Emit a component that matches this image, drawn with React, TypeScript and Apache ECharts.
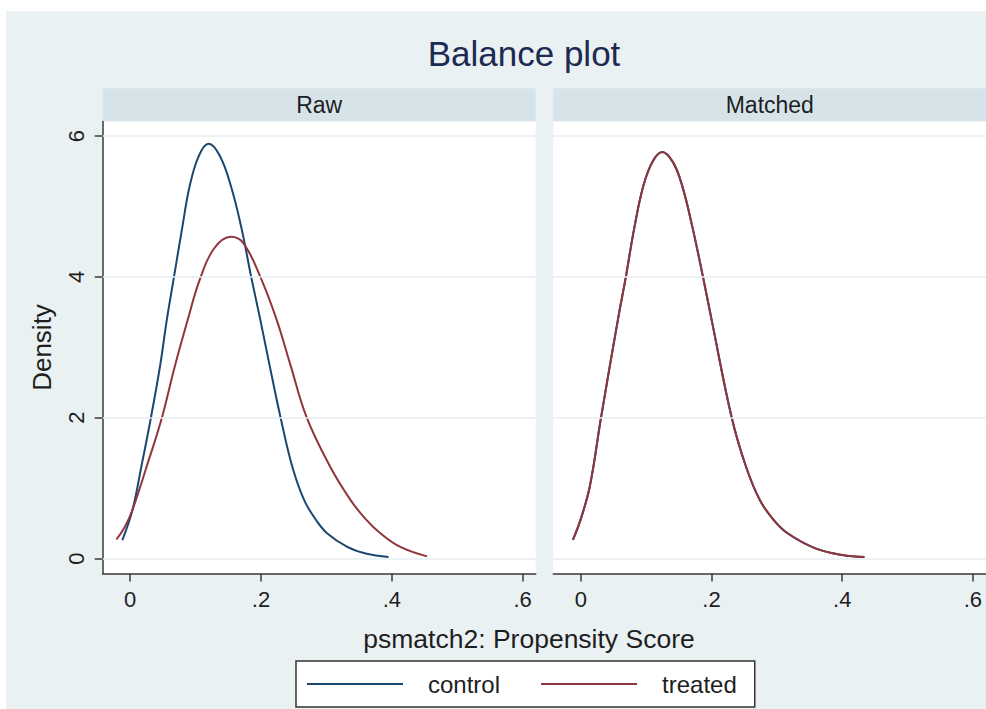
import React, { useEffect, useRef } from "react";
import * as echarts from "echarts";

// ---- data ----
const titleText = "Balance plot";
const panelNames = ["Raw", "Matched"];
const groupNames = ["control", "treated"];
const xTitle = "psmatch2: Propensity Score";
const yTitle = "Density";
const xTicks = [0, 0.2, 0.4, 0.6];
const yTicks = [0, 2, 4, 6];

// [propensity score, density]
const rawControl: [number, number][] = [
  [-0.012, 0.26], [0.0035, 0.69], [0.017, 1.3], [0.0317, 2.0], [0.046, 2.75],
  [0.056, 3.39], [0.067, 4.0], [0.0796, 4.7], [0.091, 5.29], [0.105, 5.72],
  [0.12, 5.89], [0.137, 5.72], [0.154, 5.29], [0.17, 4.7], [0.185, 4.0],
  [0.199, 3.39], [0.213, 2.75], [0.23, 2.0], [0.248, 1.3], [0.266, 0.83],
  [0.284, 0.55], [0.301, 0.36], [0.332, 0.165], [0.36, 0.07], [0.395, 0.02],
];
const rawTreated: [number, number][] = [
  [-0.021, 0.27], [-0.008, 0.45], [0.0035, 0.69], [0.025, 1.3], [0.0485, 2.0],
  [0.068, 2.72], [0.088, 3.39], [0.106, 3.95], [0.128, 4.4], [0.154, 4.57],
  [0.173, 4.48], [0.199, 4.0], [0.224, 3.39], [0.245, 2.75], [0.27, 2.0],
  [0.306, 1.3], [0.337, 0.83], [0.36, 0.56], [0.383, 0.355], [0.413, 0.165],
  [0.454, 0.03],
];
const matchedControl: [number, number][] = [
  [-0.012, 0.265], [0.0, 0.56], [0.014, 1.03], [0.031, 2.0], [0.057, 3.4],
  [0.069, 4.0], [0.082, 4.7], [0.096, 5.3], [0.11, 5.64], [0.1246, 5.775],
  [0.141, 5.63], [0.155, 5.3], [0.171, 4.7], [0.187, 4.0], [0.2, 3.4],
  [0.231, 2.0], [0.253, 1.3], [0.274, 0.83], [0.295, 0.55], [0.317, 0.355],
  [0.36, 0.14], [0.4, 0.05], [0.434, 0.02],
];
const matchedTreated: [number, number][] = [
  [-0.012, 0.265], [0.0, 0.56], [0.014, 1.03], [0.031, 2.0], [0.057, 3.4],
  [0.069, 4.0], [0.082, 4.7], [0.096, 5.3], [0.11, 5.64], [0.1246, 5.775],
  [0.141, 5.63], [0.155, 5.3], [0.171, 4.7], [0.187, 4.0], [0.2, 3.4],
  [0.231, 2.0], [0.253, 1.3], [0.274, 0.83], [0.295, 0.55], [0.317, 0.355],
  [0.36, 0.14], [0.4, 0.05], [0.434, 0.02],
];

// ---- styling ----
const FONT = '"Liberation Sans", Arial, Helvetica, sans-serif';
const BLUE = "#1a476f";
const RED = "#90353b";
const OUTER = "#e9f1f3";
const STRIP = "#d6e4ea";
const GRIDLINE = "#e6eef1";
const AXIS = "#3a3a3a";
const TEXT = "#1e1e1e";

const X_MIN = -0.042;
const X_MAX = 0.62;
const Y_MIN = -0.213;
const Y_MAX = 6.207;

const GRID_TOP = 121.5;
const GRID_H = 452;
const GRID_W = 433;
const GRID_LEFTS = [102.7, 553.3];

export default function App() {
  const ref = useRef<HTMLDivElement>(null);

  useEffect(() => {
    if (!ref.current) return;
    const chart = echarts.init(ref.current, undefined, { renderer: "svg" });

    const fmtX = (v: number) => (v === 0 ? "0" : String(v).replace(/^0/, ""));

    const grids = GRID_LEFTS.map((left) => ({
      left,
      top: GRID_TOP,
      width: GRID_W,
      height: GRID_H,
      show: true,
      backgroundColor: "#ffffff",
      borderWidth: 0,
      containLabel: false,
    }));

    const xAxes = GRID_LEFTS.map((_, i) => ({
      type: "value",
      gridIndex: i,
      min: X_MIN,
      max: X_MAX,
      axisLine: { show: true, onZero: false, lineStyle: { color: AXIS, width: 1.5 } },
      axisTick: { show: true, length: 8, customValues: xTicks, lineStyle: { color: AXIS, width: 1.5 } },
      axisLabel: {
        show: true,
        customValues: xTicks,
        formatter: fmtX,
        fontSize: 22,
        fontFamily: FONT,
        color: TEXT,
        margin: 15,
      },
      splitLine: { show: false },
    }));

    const yAxes = GRID_LEFTS.map((_, i) => ({
      type: "value",
      gridIndex: i,
      min: Y_MIN,
      max: Y_MAX,
      name: i === 0 ? yTitle : "",
      nameLocation: "middle",
      nameRotate: 90,
      nameGap: 48,
      nameTextStyle: { fontSize: 26, fontFamily: FONT, color: TEXT },
      axisLine: { show: i === 0, onZero: false, lineStyle: { color: AXIS, width: 1.5 } },
      axisTick: { show: i === 0, length: 8, customValues: yTicks, lineStyle: { color: AXIS, width: 1.5 } },
      axisLabel: {
        show: i === 0,
        customValues: yTicks,
        rotate: 90,
        fontSize: 22,
        fontFamily: FONT,
        color: TEXT,
        margin: 15,
      },
      splitLine: { show: false },
    }));

    const gridLineSeries = GRID_LEFTS.map((_, i) => ({
      type: "line",
      name: "gridlines",
      xAxisIndex: i,
      yAxisIndex: i,
      data: [],
      z: 1,
      silent: true,
      markLine: {
        silent: true,
        symbol: "none",
        label: { show: false },
        lineStyle: { color: GRIDLINE, width: 1.5, type: "solid" },
        data: yTicks.map((v) => ({ yAxis: v })),
      },
    }));

    const curve = (name: string, data: [number, number][], idx: number, color: string) => ({
      type: "line",
      name,
      xAxisIndex: idx,
      yAxisIndex: idx,
      data,
      smooth: 0.4,
      showSymbol: false,
      symbol: "none",
      color,
      lineStyle: { color, width: 2 },
      z: 3,
    });

    const option: any = {
      animation: false,
      backgroundColor: "#ffffff",
      title: [
        {
          text: titleText,
          left: 524,
          top: 36,
          padding: 0,
          textAlign: "center",
          textStyle: { fontSize: 35, fontWeight: "normal", fontFamily: FONT, color: "#1d2a52" },
        },
        {
          text: xTitle,
          left: 529,
          top: 625,
          padding: 0,
          textAlign: "center",
          textStyle: { fontSize: 26.5, fontWeight: "normal", fontFamily: FONT, color: TEXT },
        },
      ],
      graphic: [
        {
          type: "rect",
          z: -100,
          shape: { x: 6, y: 11, width: 980, height: 698 },
          style: { fill: OUTER },
          silent: true,
        },
        ...GRID_LEFTS.map((left) => ({
          type: "rect",
          z: -90,
          shape: { x: left, y: 88.3, width: GRID_W, height: 33.2 },
          style: { fill: STRIP },
          silent: true,
        })),
        ...GRID_LEFTS.map((left, i) => ({
          type: "text",
          z: 10,
          x: left + GRID_W / 2,
          y: 104.5,
          style: {
            text: panelNames[i],
            fontSize: 23,
            fontFamily: FONT,
            fill: TEXT,
            align: "center",
            verticalAlign: "middle",
          },
          silent: true,
        })),
      ],
      legend: {
        data: groupNames,
        left: 296,
        top: 661,
        orient: "horizontal",
        icon: "rect",
        itemWidth: 96,
        itemHeight: 2,
        itemGap: 41,
        padding: [11, 18, 11, 11],
        backgroundColor: "#ffffff",
        borderColor: "#333333",
        borderWidth: 1.5,
        borderRadius: 0,
        textStyle: { fontSize: 24, fontFamily: FONT, color: TEXT, padding: [0, 0, 0, 20] },
      },
      grid: grids,
      xAxis: xAxes,
      yAxis: yAxes,
      series: [
        ...gridLineSeries,
        curve(groupNames[0], rawControl, 0, BLUE),
        curve(groupNames[1], rawTreated, 0, RED),
        curve(groupNames[0], matchedControl, 1, BLUE),
        curve(groupNames[1], matchedTreated, 1, RED),
      ],
    };

    chart.setOption(option);
    return () => {
      chart.dispose();
    };
  }, []);

  return (
    <div
      ref={ref}
      style={{ position: "absolute", left: 0, top: 0, width: 986, height: 709 }}
    />
  );
}
